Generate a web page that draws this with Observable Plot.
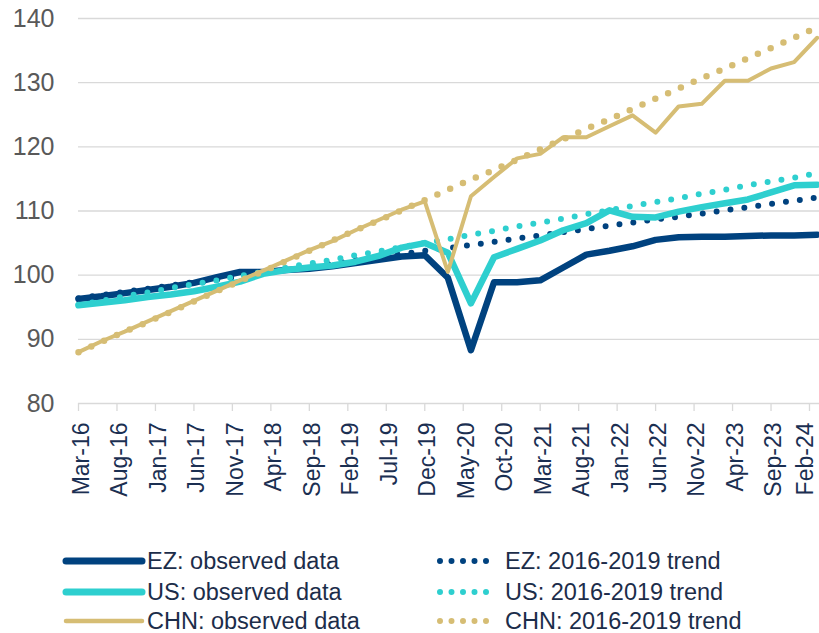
<!DOCTYPE html>
<html>
<head>
<meta charset="utf-8">
<script src="https://cdn.jsdelivr.net/npm/d3@7"></script>
<script src="https://cdn.jsdelivr.net/npm/@observablehq/plot@0.6"></script>
<style>
  html, body { margin: 0; padding: 0; background: #fff; }
  body { width: 819px; height: 633px; overflow: hidden; font-family: "Liberation Sans", Arial, sans-serif; }
  #legend { position: relative; width: 819px; height: 108px; }
  .lg { position: absolute; height: 26px; line-height: 26px; font-size: 23.5px; color: #1c2d4a; white-space: nowrap; }
  .sw { position: absolute; }
</style>
</head>
<body>
<div id="chart"></div>
<div id="legend"></div>
<script>
const quarters = ["Mar-16","Jun-16","Sep-16","Dec-16","Mar-17","Jun-17","Sep-17","Dec-17",
  "Mar-18","Jun-18","Sep-18","Dec-18","Mar-19","Jun-19","Sep-19","Dec-19",
  "Mar-20","Jun-20","Sep-20","Dec-20","Mar-21","Jun-21","Sep-21","Dec-21",
  "Mar-22","Jun-22","Sep-22","Dec-22","Mar-23","Jun-23","Sep-23","Dec-23","Mar-24"];

const ezObserved = [96.3, 96.7, 97.2, 97.7, 98.2, 98.8, 99.7, 100.5, 100.5, 100.8, 101.0, 101.4, 101.9, 102.4, 102.9, 103.1,
  99.6, 88.3, 98.9, 98.9, 99.2, 101.2, 103.2, 103.8, 104.5, 105.5, 105.9, 106.0, 106.0, 106.1, 106.2, 106.2, 106.3];
const ezTrend = [96.4, 96.9, 97.4, 97.9, 98.4, 98.9, 99.3, 99.8, 100.3, 100.8, 101.3, 101.8, 102.3, 102.8, 103.3, 103.8,
  104.2, 104.7, 105.2, 105.7, 106.2, 106.7, 107.2, 107.7, 108.2, 108.7, 109.1, 109.6, 110.1, 110.6, 111.1, 111.6, 112.1];
const usObserved = [95.3, 95.7, 96.1, 96.6, 97.0, 97.5, 98.2, 99.0, 100.2, 100.8, 101.2, 101.5, 102.1, 103.0, 104.3, 105.0,
  103.5, 95.6, 102.8, 104.1, 105.4, 107.0, 108.1, 110.1, 109.1, 109.0, 109.9, 110.6, 111.2, 111.8, 112.9, 114.0, 114.1];
const usTrend = [95.4, 96.0, 96.7, 97.3, 98.0, 98.6, 99.2, 99.9, 100.5, 101.2, 101.8, 102.4, 103.1, 103.7, 104.4, 105.0,
  105.6, 106.3, 106.9, 107.6, 108.2, 108.8, 109.5, 110.1, 110.8, 111.4, 112.0, 112.7, 113.3, 114.0, 114.6, 115.2, 115.9];
const chnObserved = [88.0, 89.7, 91.2, 92.8, 94.4, 96.0, 97.6, 99.2, 100.7, 102.3, 103.9, 105.3, 107.0, 108.6, 110.2, 111.5,
  100.5, 112.3, 115.3, 118.2, 118.9, 121.5, 121.5, 123.2, 124.9, 122.2, 126.3, 126.7, 130.3, 130.3, 132.2, 133.2, 137.0];
const chnTrend = [88.0, 89.6, 91.2, 92.7, 94.3, 95.9, 97.5, 99.1, 100.6, 102.2, 103.8, 105.4, 107.0, 108.5, 110.1, 111.7,
  113.3, 114.9, 116.4, 118.0, 119.6, 121.2, 122.8, 124.3, 125.9, 127.5, 129.1, 130.7, 132.2, 133.8, 135.4, 137.0, 138.6];

const xTickLabels = ["Mar-16","Aug-16","Jan-17","Jun-17","Nov-17","Apr-18","Sep-18","Feb-19","Jul-19","Dec-19",
  "May-20","Oct-20","Mar-21","Aug-21","Jan-22","Jun-22","Nov-22","Apr-23","Sep-23","Feb-24"];
const yTicks = [80, 90, 100, 110, 120, 130, 140];

const seriesNames = ["EZ: observed data","EZ: 2016-2019 trend","US: observed data","US: 2016-2019 trend","CHN: observed data","CHN: 2016-2019 trend"];
const navy = "#00427f", cyan = "#2ecfcf", tan = "#d6bd74";

const monthNames = ["Jan","Feb","Mar","Apr","May","Jun","Jul","Aug","Sep","Oct","Nov","Dec"];
function monthIndex(label) {
  const [m, y] = label.split("-");
  return (2000 + (+y) - 2016) * 12 + monthNames.indexOf(m) - 2;
}
const rows = (vals) => quarters.map((q, i) => ({m: monthIndex(q), v: vals[i]}));
const xTicks = xTickLabels.map(monthIndex);
const tickRows = xTickLabels.map((t, i) => ({m: xTicks[i], t}));

const solid = (vals, color, w) => Plot.line(rows(vals), {x: "m", y: "v", stroke: color, strokeWidth: w, strokeLinejoin: "round", strokeLinecap: "round"});
const dotted = (vals, color, w) => Plot.line(rows(vals), {x: "m", y: "v", stroke: color, strokeWidth: w, strokeDasharray: "0 14", strokeLinecap: "round"});
const xLabels = (data, dx) => Plot.text(data, {x: "m", y: 80, text: "t", rotate: -90, textAnchor: "end", lineAnchor: "middle", dy: 19, dx, fontSize: 23, fill: "#1b2f52"});

const chart = Plot.plot({
  width: 819,
  height: 525,
  marginLeft: 78,
  marginRight: 0,
  marginTop: 18,
  marginBottom: 122,
  style: {fontFamily: "'Liberation Sans', Arial, sans-serif", background: "#fff", overflow: "visible"},
  x: {domain: [0, 96.3], axis: null},
  y: {domain: [80, 140], axis: null},
  marks: [
    Plot.ruleY(yTicks, {stroke: "#d9d9d9", strokeWidth: 1.3}),
    Plot.ruleX(xTicks, {x: d => d, y1: 80, y2: 80, insetBottom: -8, stroke: "#d9d9d9", strokeWidth: 1.3}),
    Plot.text(yTicks, {frameAnchor: "left", y: d => d, text: d => String(d), textAnchor: "end", dx: -24, fontSize: 25, fill: "#595959"}),
    xLabels(tickRows.slice(0, -1), 3),
    xLabels(tickRows.slice(-1), -3.5),
    solid(ezObserved, navy, 6.5),
    dotted(ezTrend, navy, 6),
    solid(usObserved, cyan, 6.5),
    dotted(usTrend, cyan, 6),
    solid(chnObserved, tan, 4),
    dotted(chnTrend, tan, 6.5)
  ]
});
document.getElementById("chart").appendChild(chart);

// Legend
const legend = document.getElementById("legend");
const items = [
  {name: seriesNames[0], color: navy, dotted: false, w: 7, col: 0, row: 0},
  {name: seriesNames[1], color: navy, dotted: true, col: 1, row: 0},
  {name: seriesNames[2], color: cyan, dotted: false, w: 7, col: 0, row: 1},
  {name: seriesNames[3], color: cyan, dotted: true, col: 1, row: 1},
  {name: seriesNames[4], color: tan, dotted: false, w: 4.5, col: 0, row: 2},
  {name: seriesNames[5], color: tan, dotted: true, col: 1, row: 2}
];
const rowCenters = [36, 67, 96];
const ns = "http://www.w3.org/2000/svg";
items.forEach(it => {
  const cy = rowCenters[it.row];
  const svg = document.createElementNS(ns, "svg");
  const line = document.createElementNS(ns, "line");
  let left, w, textLeft;
  if (!it.dotted) {
    left = 62; w = 84; textLeft = 147;
    line.setAttribute("x1", 4); line.setAttribute("x2", 80);
    line.setAttribute("stroke-width", it.w);
  } else {
    left = 434; w = 70; textLeft = 505;
    line.setAttribute("x1", 6); line.setAttribute("x2", 63.5);
    line.setAttribute("stroke-width", 6);
    line.setAttribute("stroke-dasharray", "0 11.5");
  }
  svg.setAttribute("width", w); svg.setAttribute("height", 12);
  svg.setAttribute("class", "sw");
  svg.style.left = left + "px"; svg.style.top = (cy - 6) + "px";
  line.setAttribute("y1", 6); line.setAttribute("y2", 6);
  line.setAttribute("stroke", it.color);
  line.setAttribute("stroke-linecap", "round");
  svg.appendChild(line);
  legend.appendChild(svg);
  const t = document.createElement("div");
  t.className = "lg";
  t.textContent = it.name;
  t.style.left = textLeft + "px";
  t.style.top = (cy - 13) + "px";
  legend.appendChild(t);
});
</script>
</body>
</html>
